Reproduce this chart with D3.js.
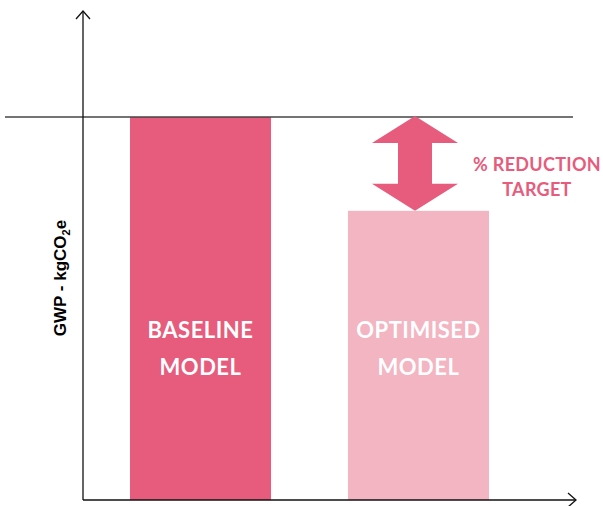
<!DOCTYPE html>
<html>
<head>
<meta charset="utf-8">
<script src="https://cdn.jsdelivr.net/npm/d3@7"></script>
<style>
  body { margin: 0; background: #fff; }
  svg { display: block; }
</style>
</head>
<body>
<div id="chart"></div>
<script>
const categories = ["BASELINE MODEL", "OPTIMISED MODEL"];
const values = [100, 75.5];
const barColors = ["#e75b7c", "#f3b5c2"];
const targetLabel = ["% REDUCTION", "TARGET"];

const width = 603, height = 506;
const axisX = 83, axisY = 500;

const svg = d3.select("#chart").append("svg")
  .attr("width", width).attr("height", height);

const x = d3.scaleBand()
  .domain(categories)
  .range([130, 489])
  .paddingInner(0.353);

const y = d3.scaleLinear()
  .domain([0, 100])
  .range([axisY, 117]);

// bars
svg.append("g").selectAll("rect")
  .data(categories)
  .join("rect")
  .attr("x", d => x(d))
  .attr("y", (d, i) => y(values[i]))
  .attr("width", x.bandwidth())
  .attr("height", (d, i) => axisY - y(values[i]))
  .attr("fill", (d, i) => barColors[i]);

// bar labels
svg.append("g").selectAll("text")
  .data(categories)
  .join("text")
  .attr("x", d => x(d) + x.bandwidth() / 2)
  .attr("y", 338)
  .attr("text-anchor", "middle")
  .attr("fill", "#fff")
  .style("font", "bold 22px Lato, 'Open Sans', sans-serif")
  .style("letter-spacing", "0.5px")
  .selectAll("tspan")
  .data(d => d.split(" "))
  .join("tspan")
  .attr("x", function () { return this.parentNode.getAttribute("x"); })
  .attr("dy", (d, i) => i ? 37 : 0)
  .text(d => d);

// reference line at baseline value
svg.append("line")
  .attr("x1", 5).attr("x2", 573)
  .attr("y1", y(values[0])).attr("y2", y(values[0]))
  .attr("stroke", "#444").attr("stroke-width", 1.5);

// axes
const axes = svg.append("g").attr("fill", "none").attr("stroke", "#111").attr("stroke-width", 1.3);
axes.append("line").attr("x1", axisX).attr("x2", axisX).attr("y1", axisY).attr("y2", 11);
axes.append("path").attr("d", `M${axisX - 7},${19} L${axisX},${11} L${axisX + 7},${19}`);
axes.append("line").attr("x1", axisX).attr("x2", 576).attr("y1", axisY).attr("y2", axisY);
axes.append("path").attr("d", `M568,${axisY - 7} L576,${axisY} L568,${axisY + 7}`);

// double arrow between the two values
const ax = 415, yTop = y(values[0]) - 1, yBot = y(values[1]);
const headH = 27, headW = 43, shaftW = 17;
svg.append("path")
  .attr("fill", barColors[0])
  .attr("d", [
    `M${ax},${yTop}`,
    `L${ax + headW},${yTop + headH}`,
    `L${ax + shaftW},${yTop + headH}`,
    `L${ax + shaftW},${yBot - headH}`,
    `L${ax + headW},${yBot - headH}`,
    `L${ax},${yBot}`,
    `L${ax - headW},${yBot - headH}`,
    `L${ax - shaftW},${yBot - headH}`,
    `L${ax - shaftW},${yTop + headH}`,
    `L${ax - headW},${yTop + headH}`,
    "Z"
  ].join(" "));

svg.append("text")
  .attr("text-anchor", "middle")
  .attr("fill", barColors[0])
  .style("font", "bold 18px Lato, 'Open Sans', sans-serif")
  .style("letter-spacing", "0.3px")
  .selectAll("tspan")
  .data(targetLabel)
  .join("tspan")
  .attr("x", 537)
  .attr("y", (d, i) => 171 + i * 25)
  .text(d => d);

// y axis title
const yt = svg.append("text")
  .attr("transform", `translate(66,278) rotate(-90)`)
  .attr("text-anchor", "middle")
  .attr("fill", "#000")
  .style("font-family", "'Liberation Sans', Arial, sans-serif")
  .style("font-weight", "bold")
  .style("font-size", "17px");
yt.append("tspan").text("GWP - kgCO");
yt.append("tspan").style("font-size", "11px").attr("dy", 4).text("2");
yt.append("tspan").attr("dy", -4).text("e");
</script>
</body>
</html>
